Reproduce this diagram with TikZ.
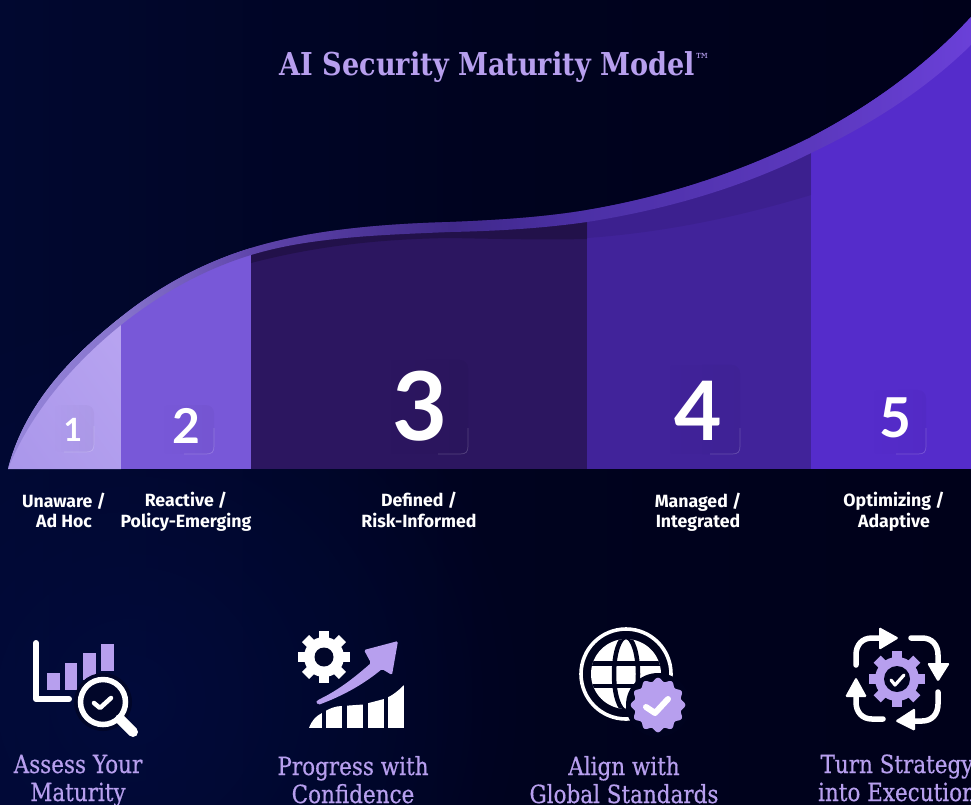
\documentclass[tikz,border=0pt]{standalone}
\usepackage{fontspec}
\usetikzlibrary{fadings,shadings}
\newfontfamily\slabfont[FakeStretch=0.86]{DejaVu Serif}
\newfontfamily\slabmed[FakeStretch=0.86,FakeBold=0.5]{DejaVu Serif}
\newfontfamily\firafont{Fira Sans}
\newfontfamily\latofont{Lato}
\definecolor{lav}{HTML}{B79FEE}
\definecolor{bgL}{HTML}{010830}
\definecolor{bgM}{HTML}{00031F}
\definecolor{bgR}{HTML}{00011A}
\definecolor{blob}{HTML}{020C40}
\definecolor{sA}{HTML}{B9A5F1}
\definecolor{sAb}{HTML}{A996EA}
\definecolor{sB}{HTML}{7858D8}
\definecolor{sC}{HTML}{2C1660}
\definecolor{sD}{HTML}{41239A}
\definecolor{sE}{HTML}{552CCB}
\definecolor{bA}{HTML}{9686DA}
\definecolor{bB}{HTML}{5F45AB}
\definecolor{bC}{HTML}{40298A}
\definecolor{bD}{HTML}{4C30A6}
\definecolor{bE}{HTML}{5B38BD}
\definecolor{bF}{HTML}{6A40D8}
\pgfdeclarehorizontalshading{bandsh}{100bp}{color(0bp)=(bA); color(25bp)=(bA); color(31bp)=(bA!70!bB); color(37.6bp)=(bB); color(48bp)=(bC); color(55bp)=(bD); color(66.7bp)=(bE); color(75bp)=(bF); color(100bp)=(bF)}
\tikzfading[name=boxfade, left color=transparent!100, right color=transparent!45]
\tikzfading[name=blobfade, inner color=transparent!25, outer color=transparent!100]
\tikzset{
  x=1pt,y=-1pt,
  title/.style={text=lav,inner sep=0pt,font=\slabfont\bfseries\fontsize{31.5}{38}\selectfont},
  numeral/.style={text=white,inner sep=0pt,font=\latofont\bfseries},
  stage/.style={text=white,inner sep=0pt,align=center,font=\firafont\bfseries\fontsize{17.7}{20}\selectfont},
  action/.style={text=lav,inner sep=0pt,align=center,font=\slabmed\fontsize{25}{28}\selectfont},
  icol/.style={fill=lav,draw=none},
  gap/.style={fill=bgM,draw=none},
  gapb/.style={fill=bgM!70!blob,draw=none}
}
\def\outercurve{(8,469) .. controls (26,398) and (81,349) .. (121,317) .. controls (161,285) and (205,262) .. (251,248) .. controls (310,230) and (380,224) .. (450,222) .. controls (500,220) and (545,217) .. (587,210) .. controls (670,196) and (745,170) .. (811,137) .. controls (870,106) and (925,67) .. (971,17)}
\newcommand{\digitbox}[4]{%
  \fill[black,opacity=.05,path fading=boxfade] (#1,#2) [rounded corners=8pt] rectangle (#3,#4);
  \draw[white,opacity=.2,line width=.7pt] (#3-30,#4) -- (#3-8,#4) .. controls (#3-2,#4) and (#3,#4-2) .. (#3,#4-8) -- (#3,#4-26);}
\newcommand{\cogwheel}[4]{% x,y,body r,colour
  \foreach \a in {0,45,...,315}{\draw[#4,line width=10pt] (#1,#2) ++(\a:#3-2) -- ++(\a:8);}
  \fill[#4] (#1,#2) circle[radius=#3 pt];}
\begin{document}
\begin{tikzpicture}
\useasboundingbox (0,0) rectangle (971,804);
\shade[left color=bgL,right color=bgR,middle color=bgM] (0,0) rectangle (971,804);
\fill[blob,path fading=blobfade] (130,700) circle[radius=400pt];
% steps
\begin{scope}
\clip \outercurve -- (971,469) -- cycle;
\shade[lower left=sAb,upper right=sA,upper left=sAb!50!sA,lower right=sAb!50!sA] (0,300) rectangle (121,469);
\fill[sB] (121,240) rectangle (251,469);
\fill[sC] (251,200) rectangle (587,469);
\fill[sD] (587,150) rectangle (811,469);
\fill[sE] (811,0) rectangle (971,469);
% shadow band under the ridge
\fill[black,opacity=.22] (251,249) -- (251,263) .. controls (320,245) and (385,239) .. (450,238) .. controls (500,239) and (545,240) .. (587,239) -- (587,210) -- cycle;
\fill[black,opacity=.07] (587,210) -- (587,238) .. controls (670,232) and (745,215) .. (811,195) -- (811,137) -- cycle;
\end{scope}
% ridge band
\shade[shading=bandsh] \outercurve -- (971,45) .. controls (925,90) and (870,125) .. (811,153) .. controls (745,186) and (670,209) .. (587,222) .. controls (545,228) and (500,231) .. (450,232) .. controls (380,235) and (310,237) .. (251,255) .. controls (205,269) and (161,293) .. (121,325) .. controls (81,357) and (32,408) .. (8,469) -- cycle;
% digit boxes
\digitbox{52}{405}{94}{452}
\digitbox{160}{405}{214}{454}
\digitbox{385}{360}{468}{454}
\digitbox{665}{365}{740}{454}
\digitbox{870}{390}{926}{454}
% title
\node[title] (ttl) at (495,67) {AI Security Maturity Model\raisebox{9pt}{\fontsize{18}{18}\selectfont\mdseries ™}};
% numerals
\node[numeral,font=\latofont\fontsize{32}{32}\selectfont\bfseries] (n1) at (73,430) {1};
\node[numeral,font=\latofont\fontsize{48}{48}\selectfont\bfseries] (n2) at (186,426) {2};
\node[numeral,font=\latofont\fontsize{95}{95}\selectfont\bfseries] (n3) at (420,406) {3};
\node[numeral,font=\latofont\fontsize{82}{82}\selectfont\bfseries] (n4) at (698,411) {4};
\node[numeral,font=\latofont\fontsize{55}{55}\selectfont\bfseries] (n5) at (895,418) {5};
% stage labels
\node[stage] (l1) at (64,513) {\strut Unaware /\\\strut Ad Hoc};
\node[stage] (l2) at (186,513) {\strut Reactive /\\\strut Policy-Emerging};
\node[stage] (l3) at (419,513) {\strut Defined /\\\strut Risk-Informed};
\node[stage] (l4) at (698,513) {\strut Managed /\\\strut Integrated};
\node[stage] (l5) at (894,513) {\strut Optimizing /\\\strut Adaptive};
% icon 1
\fill[icol] (47,673) rectangle (60,690);
\fill[icol] (65,663) rectangle (77,690);
\fill[icol] (83,653) rectangle (96,680);
\fill[icol] (101,644) rectangle (114,671);
\draw[white,line width=6pt,line cap=round,line join=round] (36,643) -- (36,699) -- (69,699);
\fill[gapb] (103,702) circle[radius=29pt];
\draw[white,line width=5.5pt] (103,702) circle[radius=22.5pt];
\draw[white,line width=10pt,line cap=round] (120,719) -- (133,732);
\draw[white,line width=4.5pt,line cap=round,line join=round] (94,703) -- (100,708) -- (111,698);
% icon 2
\cogwheel{324}{657}{20}{white}
\fill[gapb] (324,657) circle[radius=9.5pt];
\fill[icol,rounded corners=1.5pt] (318,705) .. controls (316,702) and (316,701) .. (320,699) .. controls (340,689) and (355,677) .. (371,663) -- (364,650) -- (398,641) -- (392,675) -- (382,669) .. controls (365,683) and (345,695) .. (318,705) -- cycle;
\begin{scope}
\clip (309,728) .. controls (312,720) and (316,716) .. (322,713) .. controls (330,708) and (336,706) .. (342,706) -- (363,704.5) -- (384,699) .. controls (392,696) and (398,691) .. (404,685) -- (404,728) -- cycle;
\fill[white] (309,680) rectangle (322,728);
\fill[white] (326,680) rectangle (342,728);
\fill[white] (347,680) rectangle (363,728);
\fill[white] (368,680) rectangle (384,728);
\fill[white] (388,680) rectangle (404,728);
\end{scope}
% icon 3
\draw[white,line width=3.6pt] (626,674) circle[radius=45pt];
\begin{scope}
\clip (626,674) circle[radius=35pt];
\fill[white] (590,638) rectangle (662,710);
\draw[bgM,line width=4.5pt] (626,674) ellipse[x radius=12pt,y radius=37pt];
\draw[bgM,line width=4.5pt] (585,663.3) -- (667,663.3);
\draw[bgM,line width=4.5pt] (585,686) -- (667,686);
\end{scope}
\fill[gap] (658,705) circle[radius=32pt];
\fill[icol] plot[domain=0:360,samples=181,smooth] ({658+(25.5+1.8*cos(12*\x))*cos(\x)},{705+(25.5+1.8*cos(12*\x))*sin(\x)}) -- cycle;
\draw[white,line width=6pt,line cap=round,line join=round] (646,707) -- (655,713) -- (668,699);
% icon 4
\cogwheel{897}{679}{22}{lav}
\fill[gap] (897,679) circle[radius=13pt];
\draw[white,line width=3.2pt,line cap=round,line join=round] (891,680) -- (895,685) -- (904,675);
\draw[white,line width=5.5pt,line cap=round] (856,665) -- (856,655) .. controls (856,645) and (862,638) .. (872,638) -- (882,638);
\fill[white,rounded corners=1.5pt] (879,627) -- (899,638) -- (879,650) -- cycle;
\draw[white,line width=5.5pt,line cap=round] (911,638) -- (922,638) .. controls (932,638) and (938,645) .. (938,655) -- (938,665);
\fill[white,rounded corners=1.5pt] (927,663) -- (950,663) -- (938,682) -- cycle;
\draw[white,line width=5.5pt,line cap=round] (938,692) -- (938,704) .. controls (938,714) and (932,721) .. (922,721) -- (912,721);
\fill[white,rounded corners=1.5pt] (915,708) -- (915,731) -- (895,721) -- cycle;
\draw[white,line width=5.5pt,line cap=round] (883,719) -- (872,719) .. controls (862,719) and (856,712) .. (856,702) -- (856,695);
\fill[white,rounded corners=1.5pt] (845,697) -- (867,697) -- (856,677) -- cycle;
% action labels
\node[action] (a1) at (78,781.4) {\strut Assess Your\\\strut Maturity};
\node[action] (a2) at (353,783.4) {\strut Progress with\\\strut Confidence};
\node[action] (a3) at (624,783.4) {\strut Align with\\\strut Global Standards};
\node[action] (a4) at (897,781.4) {\strut Turn Strategy\\\strut into Execution};
\end{tikzpicture}
\end{document}
